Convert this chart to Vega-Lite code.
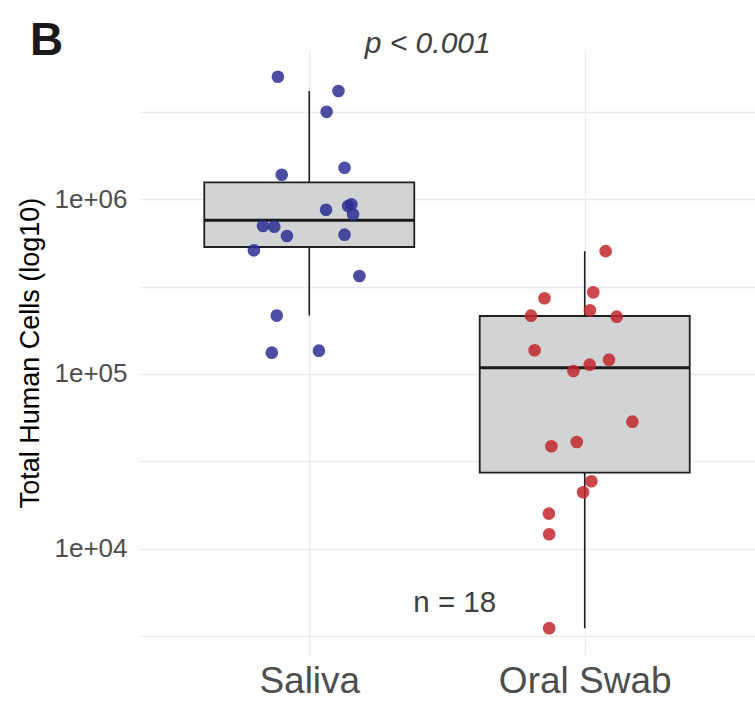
{
  "$schema": "https://vega.github.io/schema/vega-lite/v6.json",
  "width": 616,
  "height": 605,
  "autosize": "none",
  "padding": {"left": 139, "top": 50, "right": 0, "bottom": 65},
  "background": "white",
  "title": {
    "text": "B",
    "anchor": "start",
    "frame": "group",
    "dx": -109,
    "dy": 36,
    "font": "Liberation Sans",
    "fontSize": 46,
    "fontWeight": "bold",
    "color": "#1a1a1a",
    "offset": 0
  },
  "config": {
    "view": {"stroke": null},
    "font": "Liberation Sans"
  },
  "datasets": {
    "cells": [
      {"group": "Saliva", "pos": 0.886, "cells": 5030000},
      {"group": "Saliva", "pos": 1.106, "cells": 4170000},
      {"group": "Saliva", "pos": 1.063, "cells": 3170000},
      {"group": "Saliva", "pos": 0.900, "cells": 1383000},
      {"group": "Saliva", "pos": 1.128, "cells": 1517000},
      {"group": "Saliva", "pos": 1.061, "cells": 872000},
      {"group": "Saliva", "pos": 1.153, "cells": 936000},
      {"group": "Saliva", "pos": 1.141, "cells": 915600},
      {"group": "Saliva", "pos": 1.159, "cells": 820500},
      {"group": "Saliva", "pos": 0.832, "cells": 703500},
      {"group": "Saliva", "pos": 0.873, "cells": 697000},
      {"group": "Saliva", "pos": 0.919, "cells": 616600},
      {"group": "Saliva", "pos": 1.128, "cells": 627300},
      {"group": "Saliva", "pos": 0.799, "cells": 510600},
      {"group": "Saliva", "pos": 1.182, "cells": 363900},
      {"group": "Saliva", "pos": 0.882, "cells": 216000},
      {"group": "Saliva", "pos": 0.864, "cells": 132400},
      {"group": "Saliva", "pos": 1.035, "cells": 135900},
      {"group": "Oral Swab", "pos": 2.076, "cells": 505000},
      {"group": "Oral Swab", "pos": 2.031, "cells": 293500},
      {"group": "Oral Swab", "pos": 1.854, "cells": 271300},
      {"group": "Oral Swab", "pos": 2.019, "cells": 231500},
      {"group": "Oral Swab", "pos": 1.805, "cells": 215700},
      {"group": "Oral Swab", "pos": 2.116, "cells": 212800},
      {"group": "Oral Swab", "pos": 1.818, "cells": 136700},
      {"group": "Oral Swab", "pos": 2.088, "cells": 120700},
      {"group": "Oral Swab", "pos": 2.018, "cells": 113000},
      {"group": "Oral Swab", "pos": 1.959, "cells": 104000},
      {"group": "Oral Swab", "pos": 2.173, "cells": 53330},
      {"group": "Oral Swab", "pos": 1.971, "cells": 40800},
      {"group": "Oral Swab", "pos": 1.879, "cells": 38560},
      {"group": "Oral Swab", "pos": 2.024, "cells": 24310},
      {"group": "Oral Swab", "pos": 1.994, "cells": 21030},
      {"group": "Oral Swab", "pos": 1.870, "cells": 15860},
      {"group": "Oral Swab", "pos": 1.871, "cells": 12090},
      {"group": "Oral Swab", "pos": 1.871, "cells": 3503}
    ],
    "boxes": [
      {"group": "Saliva", "pos": 1, "lower": 216000, "q1": 533300, "median": 758300, "q3": 1251000, "upper": 4170000},
      {"group": "Oral Swab", "pos": 2, "lower": 3503, "q1": 27230, "median": 108700, "q3": 214800, "upper": 505000}
    ],
    "notes": [
      {"label": "p < 0.001", "pos": 1.43, "cells": 6880000, "kind": "p"},
      {"label": "n = 18", "pos": 1.528, "cells": 4342, "kind": "n"}
    ]
  },
  "encoding": {
    "x": {
      "type": "quantitative",
      "scale": {"domain": [0.4, 2.6], "nice": false, "zero": false},
      "axis": {
        "title": null,
        "values": [1, 2],
        "labelExpr": "datum.value == 1 ? 'Saliva' : 'Oral Swab'",
        "domain": false,
        "ticks": false,
        "grid": true,
        "gridColor": "#ebebeb",
        "gridWidth": 1.5,
        "labelFontSize": 37,
        "labelColor": "#4d4d4d",
        "labelPadding": 8,
        "labelFlush": false
      }
    },
    "y": {
      "type": "quantitative",
      "scale": {"type": "log", "domain": [2460, 7160000], "nice": false, "zero": false},
      "axis": {
        "title": "Total Human Cells (log10)",
        "titleFontSize": 27,
        "titleFontWeight": "normal",
        "titleColor": "#000000",
        "titlePadding": 9,
        "values": [3162.28, 10000, 31622.78, 100000, 316227.8, 1000000, 3162277.7],
        "labelExpr": "datum.value == 10000 ? '1e+04' : datum.value == 100000 ? '1e+05' : datum.value == 1000000 ? '1e+06' : ''",
        "domain": false,
        "ticks": false,
        "grid": true,
        "gridColor": "#ebebeb",
        "gridWidth": 1.5,
        "labelFontSize": 26,
        "labelColor": "#4d4d4d",
        "labelPadding": 12,
        "labelFlush": false
      }
    }
  },
  "layer": [
    {
      "data": {"name": "boxes"},
      "mark": {"type": "rule", "color": "#231f20", "strokeWidth": 1.6},
      "encoding": {
        "x": {"field": "pos"},
        "y": {"field": "lower"},
        "y2": {"field": "upper"}
      }
    },
    {
      "data": {"name": "boxes"},
      "mark": {"type": "bar", "width": 210, "fill": "#d1d3d4", "stroke": "#231f20", "strokeWidth": 1.8},
      "encoding": {
        "x": {"field": "pos"},
        "y": {"field": "q1"},
        "y2": {"field": "q3"}
      }
    },
    {
      "data": {"name": "boxes"},
      "mark": {"type": "tick", "orient": "horizontal", "size": 210, "thickness": 3, "color": "#1a1a1a", "opacity": 1},
      "encoding": {
        "x": {"field": "pos"},
        "y": {"field": "median"}
      }
    },
    {
      "data": {"name": "cells"},
      "mark": {"type": "point", "filled": true, "size": 160, "opacity": 0.85},
      "encoding": {
        "x": {"field": "pos"},
        "y": {"field": "cells"},
        "color": {
          "field": "group",
          "type": "nominal",
          "scale": {"domain": ["Saliva", "Oral Swab"], "range": ["#2b2f93", "#c1272d"]},
          "legend": null
        }
      }
    },
    {
      "data": {"name": "notes"},
      "transform": [{"filter": "datum.kind == 'p'"}],
      "mark": {"type": "text", "fontSize": 30, "fontStyle": "italic", "color": "#404040", "align": "center", "baseline": "alphabetic"},
      "encoding": {
        "x": {"field": "pos"},
        "y": {"field": "cells"},
        "text": {"field": "label"}
      }
    },
    {
      "data": {"name": "notes"},
      "transform": [{"filter": "datum.kind == 'n'"}],
      "mark": {"type": "text", "fontSize": 29.5, "color": "#404040", "align": "center", "baseline": "alphabetic"},
      "encoding": {
        "x": {"field": "pos"},
        "y": {"field": "cells"},
        "text": {"field": "label"}
      }
    }
  ]
}
